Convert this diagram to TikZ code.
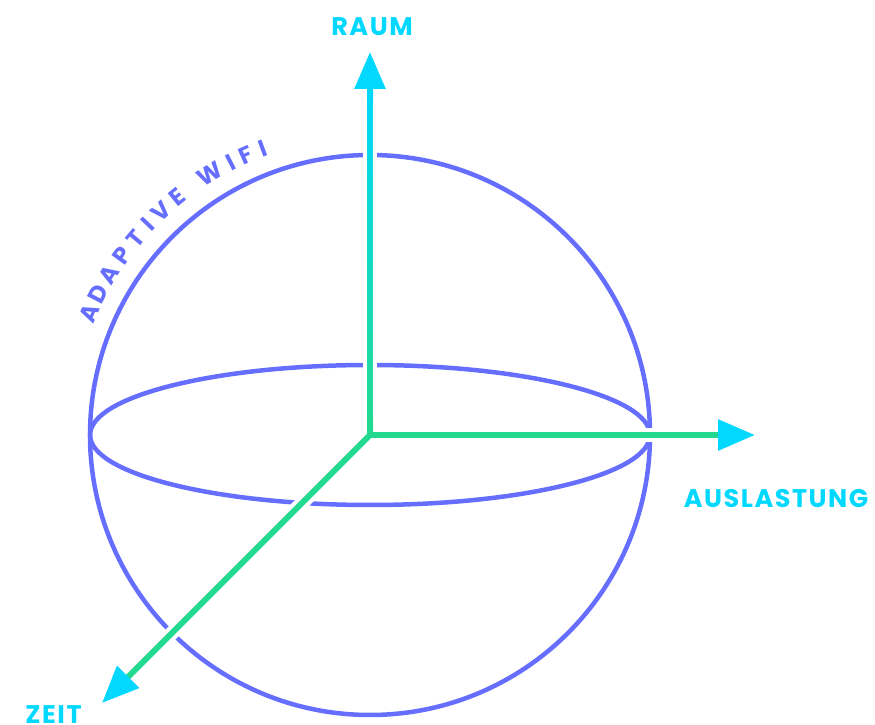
\documentclass[tikz,border=0pt]{standalone}
\usepackage{fontspec}
\setmainfont{Poppins}
\newfontfamily\spacedfont[LetterSpace=6]{Poppins}
\usetikzlibrary{arrows.meta, calc}

\definecolor{sphereblue}{RGB}{102,110,255}
\definecolor{axisgreen}{RGB}{35,217,143}
\definecolor{axiscyan}{RGB}{0,216,255}

\begin{document}
\begin{tikzpicture}[
sphere/.style={draw=sphereblue, line width=0.09cm},
halo/.style={draw=white, line width=0.28cm},
axis/.style={draw=axisgreen, line width=0.12cm},
tip/.style={-{Triangle[length=0.74cm, width=0.6cm, color=axiscyan]}},
axislabel/.style={text=axiscyan, font=\spacedfont\bfseries\fontsize{14.5}{17}\selectfont},
arcletter/.style={text=sphereblue, font=\bfseries\fontsize{13.5}{15}\selectfont, inner sep=0pt}
]
\useasboundingbox (0,0) rectangle (17.5,14.5);

\coordinate (origin) at (7.4,5.8);
\coordinate (raumbase) at (7.4,12.75);
\coordinate (raumtip) at (7.4,13.46);
\coordinate (auslastungtip) at (15.1,5.8);
\coordinate (zeittip) at (2.04,0.44);

% sphere
\draw[sphere] (origin) circle (5.6);
\draw[sphere] (origin) ellipse [x radius=5.6, y radius=1.4];

% curved title
\foreach \ang/\ch [count=\i] in {156.5/A, 152.5/D, 148.5/A, 144/P, 140/T, 136.5/I, 133/V, 129/E, 121.5/W, 117/I, 114/F, 110.5/I}
  \node[arcletter, rotate=\ang-90] (letter-\i) at ([shift={(\ang:6.12)}]origin) {\ch};

% white gaps where the axes cross the sphere
\draw[halo] (origin) -- (raumtip);
\draw[halo] (origin) -- (auslastungtip);
\draw[halo] (origin) -- (zeittip);

% axes
\foreach \i in {0,...,19}
  \pgfmathsetmacro{\mix}{\i*5}
  \draw[axis, draw=axiscyan!\mix!axisgreen] ($(origin)!\i/20!(raumbase)$) -- ($(origin)!\i/20+0.051!(raumbase)$);
\draw[axis, draw=axiscyan, tip] (raumbase) -- (raumtip);
\draw[axis, tip] (origin) -- (auslastungtip);
\draw[axis, tip] (origin) -- (zeittip);

% labels
\node[axislabel] (raum) at (7.44,13.96) {RAUM};
\node[axislabel] (auslastung) at (15.52,4.52) {AUSLASTUNG};
\node[axislabel] (zeit) at (1.07,0.2) {ZEIT};

\end{tikzpicture}
\end{document}
